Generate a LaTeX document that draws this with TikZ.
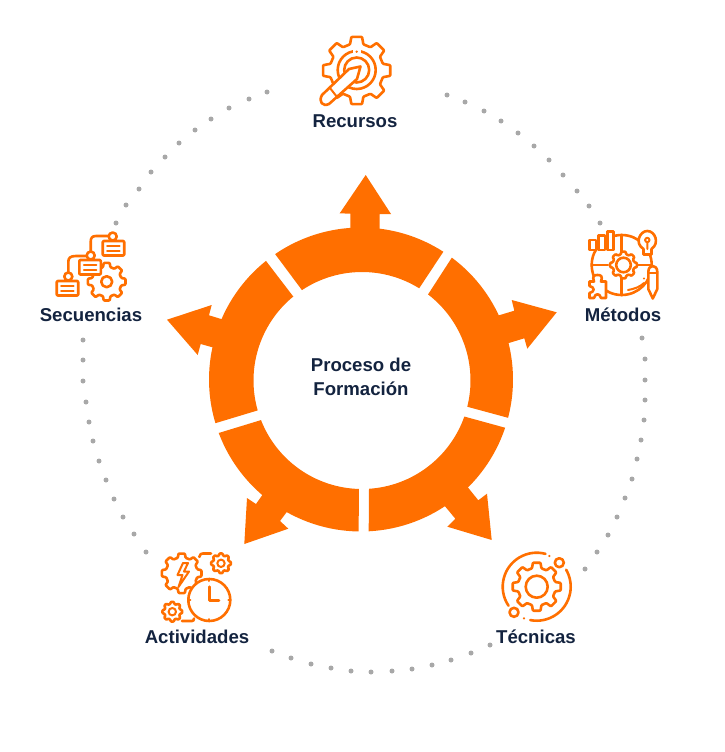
\documentclass[tikz,border=0pt]{standalone}
\usepackage{fontspec}
\setmainfont{Liberation Sans}
\usepackage{tikz}
\usetikzlibrary{calc}
\definecolor{procorange}{HTML}{FF6F00}
\definecolor{procnavy}{HTML}{13233F}
\definecolor{procdot}{HTML}{A8A8A8}
\tikzset{
  ring part/.style={fill=procorange,draw=none},
  icon line/.style={draw=procorange,line width=2.6pt,line join=round,line cap=round},
  icon fill/.style={icon line,fill=white},
  icon thin/.style={icon line,line width=2pt},
  step label/.style={font=\fontsize{18.6}{22}\selectfont\bfseries,text=procnavy,inner sep=0pt},
  centre label/.style={step label,align=center}
}
\newcommand{\gearicon}[5]{% centre x, centre y, outer radius, root radius, teeth
  \pgfmathsetmacro{\gs}{360/#5}
  \filldraw[icon fill,rounded corners=0.8pt] ({#1+#4*cos(-.32*\gs)},{#2+#4*sin(-.32*\gs)})
    \foreach \k in {1,...,#5} {
      -- ({#1+#3*cos((\k-1-.2)*\gs)},{#2+#3*sin((\k-1-.2)*\gs)})
      -- ({#1+#3*cos((\k-1+.2)*\gs)},{#2+#3*sin((\k-1+.2)*\gs)})
      -- ({#1+#4*cos((\k-1+.32)*\gs)},{#2+#4*sin((\k-1+.32)*\gs)})
      -- ({#1+#4*cos((\k-.32)*\gs)},{#2+#4*sin((\k-.32)*\gs)})
    } -- cycle;
}
\begin{document}
\begin{tikzpicture}[x=1pt,y=-1pt]
  \useasboundingbox (0,0) rectangle (725,752);
  % dotted ring
  \foreach \dx/\dy in {267/92,249/99,229/108,211/119,195/130,179/143,165/157,151/172,139/189,126/205,116/223,
    83/340,83/360,83/381,86/402,89/422,93/441,99/461,106/480,114/499,123/517,134/534,146/552,
    272/651,291/658,311/664,331/668,351/671,371/672,392/671,412/669,432/665,451/660,471/653,490/645,
    585/569,597/552,608/535,617/517,625/498,632/479,637/459,641/440,644/420,645/400,645/380,645/359,642/338,
    447/95,465/102,484/111,501/121,518/133,534/146,549/160,563/175,577/191,589/206,600/223}
    \fill[procdot] (\dx,\dy) circle[radius=2.5];
  % arrows
  \fill[ring part] (350.3,235) -- (350.3,213.7) -- (339.7,213.3) -- (365.7,175) -- (391,214) -- (379.7,214) -- (379.7,235) -- cycle;
  \fill[ring part] (490,318) -- (514.3,310.7) -- (511.7,300) -- (556.7,312.3) -- (527.3,348.7) -- (524.3,338.3) -- (499,346) -- cycle;
  \fill[ring part] (462,480) -- (478.3,500.3) -- (487,493.7) -- (491.7,540) -- (447.3,526.7) -- (455.3,518.7) -- (439,499) -- cycle;
  \fill[ring part] (292,505) -- (280,521) -- (288.3,528.7) -- (244.3,544) -- (247,498) -- (256,504) -- (268,487) -- cycle;
  \fill[ring part] (231,322) -- (209,315.3) -- (211.7,305) -- (167,319.7) -- (197.7,355) -- (200.7,344) -- (222,350) -- cycle;
  % ring
  \begin{scope}[shift={(361,379.5)},y=1pt]
    \foreach \oa/\ob/\ia/\ib in {124.4/57.2/58.2/123.6,53.3/-14.6/-14/52.5,-18.5/-87.1/-86.3/-19.4,
      269.1/200.6/201.4/268.4,196.7/128.7/129.3/196}
      \fill[ring part] (\oa:152) arc[start angle=\oa,end angle=\ob,radius=152]
        -- ([shift={(1,-1)}]\ia:108.5) arc[start angle=\ia,end angle=\ib,radius=108.5] -- cycle;
  \end{scope}
  \node[centre label] (centro) at (361,377) {Proceso de\\[2pt]Formación};
  % Recursos
  \gearicon{356.7}{70.5}{34}{27}{8}
  \draw[icon line] (356.7,70) circle[radius=19];
  \draw[icon line] (356.7,70) circle[radius=12.5];
  \fill[white] (353,48) rectangle (361,55);
  \fill[procorange] (356.7,51.7) circle[radius=1.3];
  \filldraw[icon fill] (360.5,66.5) -- (349,69) -- (322,95) .. controls (318,102) and (323,107) .. (329,104) -- (357,79) -- cycle;
  \draw[icon thin] (330,88) -- (337,97);
  \node[step label] (recursos) at (355,121) {Recursos};
  % Metodos
  \draw[icon line] (621.7,265) circle[radius=30];
  \draw[icon line] (621.7,235) -- (621.7,252) (621.7,278) -- (621.7,295)
    (591.7,265) -- (608,265) (635,265) -- (651.7,265);
  \gearicon{623.5}{265}{13.5}{11}{8}
  \draw[icon line] (623.5,265) circle[radius=7.3];
  \draw[icon thin] (628,290) .. controls (634,289) and (640,287) .. (644,283);
  \fill[procorange] (644,278.5) circle[radius=1.1];
  \filldraw[icon fill] (589.3,250) -- (589.3,240) -- (596,240) -- (596,250) -- cycle;
  \filldraw[icon fill] (598.3,250) -- (598.3,235.5) -- (605,235.5) -- (605,250) -- cycle;
  \filldraw[icon fill] (607.3,250) -- (607.3,231.7) -- (613.3,231.7) -- (613.3,250) -- cycle;
  \filldraw[icon fill] (643.5,254.5) -- (643.5,249) .. controls (634,243) and (640,231) .. (647.3,231)
    .. controls (655,231) and (660,243) .. (651.5,249) -- (651.5,254.5) -- cycle;
  \draw[icon thin] (647.3,240) circle[radius=2.2] (647.3,242.5) -- (647.3,249);
  \filldraw[icon fill] (648.3,272) .. controls (648.3,264) and (657.3,264) .. (657.3,272)
    -- (657.3,289) -- (652.8,298.5) -- (648.3,289) -- cycle;
  \draw[icon thin] (648.3,273) -- (657.3,273);
  \filldraw[icon fill] (589.5,281.5) -- (594,281.5) .. controls (592,276) and (594,275) .. (597.5,275)
    .. controls (601,275) and (603,276) .. (601,281.5) -- (606,281.5) -- (606,298) -- (601,298)
    .. controls (600,293) and (595,293) .. (594,298) -- (589.5,298) -- (589.5,293)
    .. controls (595,292) and (595,287) .. (589.5,286) -- cycle;
  \node[step label] (metodos) at (623,315) {Métodos};
  % Tecnicas
  \begin{scope}[shift={(536.7,586.7)},y=1pt]
    \draw[icon line] (75:34) arc[start angle=75,end angle=214,radius=34];
    \draw[icon line] (259:34) arc[start angle=259,end angle=390,radius=34];
  \end{scope}
  \gearicon{536.7}{586.7}{24.3}{19}{8}
  \draw[icon line] (536.7,586.7) circle[radius=11];
  \filldraw[icon fill] (559.3,562.7) circle[radius=4.5];
  \filldraw[icon fill] (514,612.3) circle[radius=4.5];
  \fill[procorange] (549.3,556) circle[radius=1.2] (524,618.3) circle[radius=1.2];
  \node[step label] (tecnicas) at (536,637) {Técnicas};
  % Actividades
  \gearicon{181.7}{573.3}{20}{16}{8}
  \draw[icon thin] (183,563) -- (177.5,575) -- (182.5,575) -- (178.5,587) -- (189,571.5) -- (184,571.5) -- (188,563) -- cycle;
  \filldraw[icon fill] (209.3,600) circle[radius=21];
  \draw[icon line] (209.3,586.7) -- (209.3,600.7) -- (219,600.7);
  \draw[icon thin] (209.3,579) -- (209.3,581) (209.3,619) -- (209.3,621) (188.3,600) -- (190.3,600) (228.3,600) -- (230.3,600);
  \gearicon{221}{563.3}{10}{8}{8}
  \draw[icon thin] (221,563.3) circle[radius=3.7];
  \gearicon{172.3}{611.7}{10}{8}{8}
  \draw[icon thin] (172.3,611.7) circle[radius=3.7];
  \draw[icon line] (199.3,557) .. controls (200,554) and (201,553.5) .. (203,553.5) -- (211,553.5);
  \draw[icon line] (182,621) -- (192,621) .. controls (193.5,621) and (194,620) .. (194,618.5);
  \node[step label] (actividades) at (197,637) {Actividades};
  % Secuencias
  \gearicon{106.7}{281.7}{19}{15}{8}
  \draw[icon line] (106.7,281.7) circle[radius=5.5];
  \draw[icon line] (108.3,236) -- (96,236) .. controls (92,236) and (90.7,238) .. (90.7,242) -- (90.7,252);
  \draw[icon line] (86.7,256) -- (76,256) .. controls (70,256) and (68.3,258) .. (68.3,262) -- (68.3,272);
  \foreach \bx/\by/\cx in {102.7/241/112.7,79.3/260/90.7,56.7/281/68.3} {
    \filldraw[icon fill,rounded corners=1pt] (\bx,\by) rectangle ++(21.5,14.5);
    \draw[icon thin] ($(\bx,\by)+(4.5,5)$) -- ++(12.5,0) ($(\bx,\by)+(4.5,9.5)$) -- ++(12.5,0);
    \filldraw[icon fill] (\cx,\by-4.5) circle[radius=4];
  }
  \node[step label] (secuencias) at (91,315) {Secuencias};
\end{tikzpicture}
\end{document}
